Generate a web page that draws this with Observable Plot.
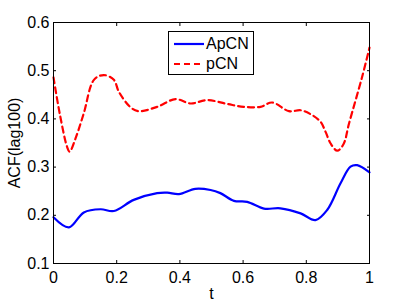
<!DOCTYPE html>
<html>
<head>
<meta charset="utf-8">
<script src="https://cdn.jsdelivr.net/npm/d3@7"></script>
<script src="https://cdn.jsdelivr.net/npm/@observablehq/plot@0.6"></script>
<style>
  html, body { margin: 0; padding: 0; background: #fff; }
  #wrap { position: relative; width: 407px; height: 301px; font-family: "Liberation Sans", Arial, sans-serif; }
  #legend { position: absolute; left: 168px; top: 31px; width: 84px; height: 42px; border: 1px solid #000; background: #fff; box-sizing: content-box; }
  #legend .row { position: absolute; left: 0; height: 20px; display: flex; align-items: center; font-size: 16px; color: #000; }
  #legend svg { display: block; }
</style>
</head>
<body>
<div id="wrap"></div>
<script>
// ApCN series
const tApCN = [0, 0.049, 0.096, 0.149, 0.191, 0.254, 0.328, 0.36, 0.397, 0.449, 0.497, 0.528, 0.571, 0.613, 0.666, 0.718, 0.782, 0.829, 0.866, 0.908, 0.94, 0.961, 1];
const vApCN = [0.196, 0.175, 0.206, 0.2125, 0.209, 0.232, 0.246, 0.247, 0.244, 0.255, 0.2525, 0.246, 0.230, 0.228, 0.214, 0.2145, 0.204, 0.190, 0.211, 0.266, 0.301, 0.304, 0.289];
// pCN series
const tPCN = [0, 0.02, 0.043, 0.051, 0.07, 0.096, 0.128, 0.159, 0.191, 0.207, 0.244, 0.27, 0.328, 0.386, 0.434, 0.486, 0.55, 0.602, 0.655, 0.692, 0.745, 0.782, 0.813, 0.845, 0.861, 0.877, 0.898, 0.918, 0.935, 0.977, 1];
const vPCN = [0.486, 0.41, 0.342, 0.332, 0.36, 0.412, 0.481, 0.491, 0.481, 0.456, 0.424, 0.416, 0.425, 0.441, 0.432, 0.439, 0.431, 0.425, 0.425, 0.434, 0.416, 0.418, 0.410, 0.394, 0.373, 0.349, 0.334, 0.348, 0.39, 0.488, 0.548];

const xTicks = [0, 0.2, 0.4, 0.6, 0.8, 1];
const yTicks = [0.1, 0.2, 0.3, 0.4, 0.5, 0.6];
const seriesNames = ["ApCN", "pCN"];
const xLabel = "t";
const yLabel = "ACF(lag100)";

const apcn = tApCN.map((t, i) => ({t, v: vApCN[i]}));
const pcn = tPCN.map((t, i) => ({t, v: vPCN[i]}));

const fmt = d => d === 0 || d === 1 ? String(d) : d.toFixed(1);

const chart = Plot.plot({
  width: 407,
  height: 301,
  marginLeft: 53,
  marginRight: 38,
  marginTop: 22,
  marginBottom: 38,
  style: { fontFamily: "Liberation Sans, Arial, sans-serif", fontSize: "16px", color: "#000", background: "#fff" },
  x: { domain: [0, 1] },
  y: { domain: [0.1, 0.6] },
  marks: [
    Plot.line(apcn, { x: "t", y: "v", stroke: "#0000ff", strokeWidth: 2.2, curve: "catmull-rom" }),
    Plot.line(pcn, { x: "t", y: "v", stroke: "#ff0000", strokeWidth: 2.2, strokeDasharray: "6,4", curve: "catmull-rom" }),
    Plot.frame({ stroke: "#000", strokeWidth: 1 }),
    // inward ticks
    Plot.axisX(xTicks, { anchor: "bottom", tickSize: 3, dy: -3, tickFormat: () => "", label: null }),
    Plot.axisX(xTicks, { anchor: "top", tickSize: 3, dy: 3, tickFormat: () => "", label: null }),
    Plot.axisY(yTicks, { anchor: "left", tickSize: 3, dx: 3, tickFormat: () => "", label: null }),
    Plot.axisY(yTicks, { anchor: "right", tickSize: 3, dx: -3, tickFormat: () => "", label: null }),
    // tick labels and axis titles
    Plot.axisX(xTicks, { anchor: "bottom", tickSize: 0, tickPadding: 8, tickFormat: fmt, label: xLabel, labelAnchor: "center", labelArrow: "none", labelOffset: 35, fontSize: 16 }),
    Plot.axisY(yTicks, { anchor: "left", tickSize: 0, tickPadding: 4, tickFormat: fmt, label: yLabel, labelAnchor: "center", labelArrow: "none", labelOffset: 45, fontSize: 16 })
  ]
});

const wrap = document.getElementById("wrap");
wrap.appendChild(chart);

const legend = document.createElement("div");
legend.id = "legend";
const colors = ["#0000ff", "#ff0000"];
const dashes = [null, "6,4"];
seriesNames.forEach((name, i) => {
  const row = document.createElement("div");
  row.className = "row";
  row.style.top = (2 + i * 20) + "px";
  const ns = "http://www.w3.org/2000/svg";
  const s = document.createElementNS(ns, "svg");
  s.setAttribute("width", "37");
  s.setAttribute("height", "20");
  const l = document.createElementNS(ns, "line");
  l.setAttribute("x1", "5"); l.setAttribute("x2", "35");
  l.setAttribute("y1", "10"); l.setAttribute("y2", "10");
  l.setAttribute("stroke", colors[i]);
  l.setAttribute("stroke-width", "2.2");
  if (dashes[i]) l.setAttribute("stroke-dasharray", dashes[i]);
  s.appendChild(l);
  row.appendChild(s);
  const tx = document.createElement("span");
  tx.textContent = name;
  row.appendChild(tx);
  legend.appendChild(row);
});
wrap.appendChild(legend);
</script>
</body>
</html>
